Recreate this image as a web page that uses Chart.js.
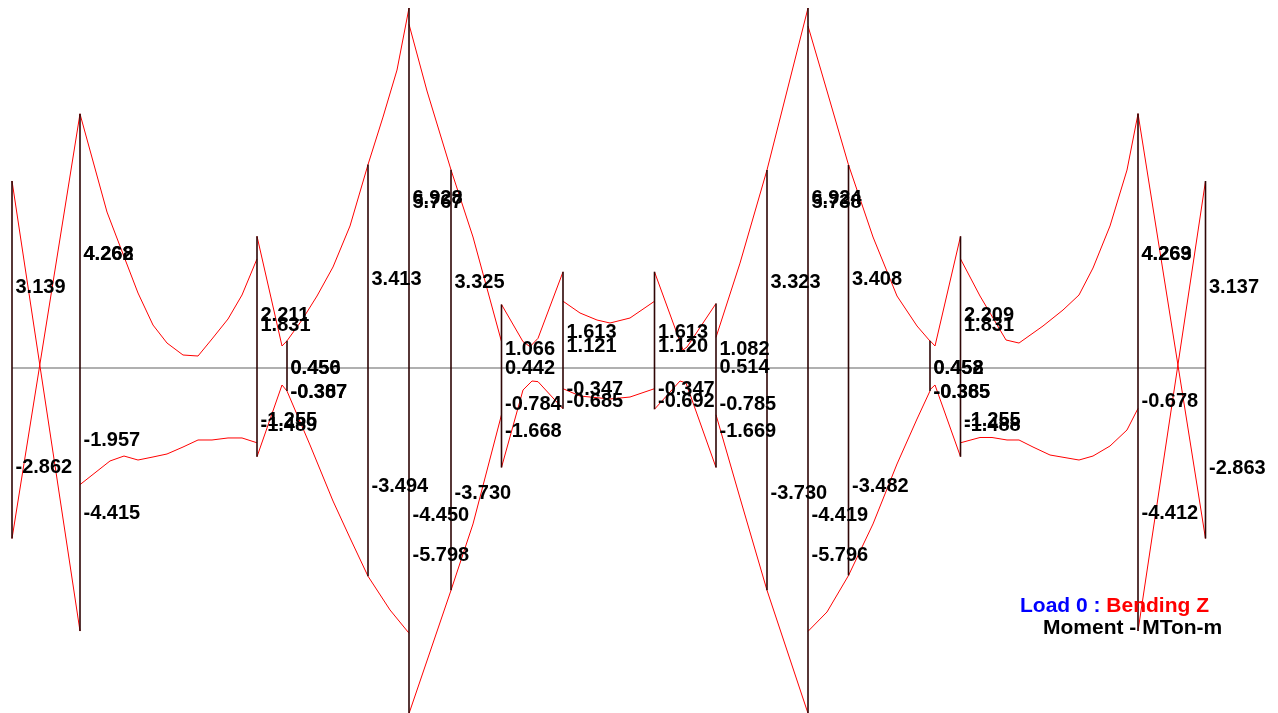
<!DOCTYPE html>
<html>
<head>
<meta charset="utf-8">
<title>Load 0 : Bending Z</title>
<script src="https://cdn.jsdelivr.net/npm/chart.js@4.4.1/dist/chart.umd.min.js"></script>
<style>
  html, body { margin: 0; padding: 0; background: #ffffff; overflow: hidden; }
  canvas { display: block; }
</style>
</head>
<body>
<canvas id="momentChart" width="1278" height="713"></canvas>
<script>
// stations of the member ends along the frame (m) and the moment there (MTon-m)
const nodeX = [1.2, 8.0, 25.7, 28.7, 36.8, 40.9, 45.1, 50.15, 56.3, 65.45, 71.6, 76.7, 80.8, 84.85, 93.0, 96.05, 113.8, 120.55];
const nodeTop = [3.139, 4.268, 2.211, 0.456, 3.413, 6.04, 3.325, 1.066, 1.613, 1.613, 1.082, 3.323, 6.04, 3.408, 0.458, 2.209, 4.269, 3.137];
const nodeBottom = [-2.862, -4.415, -1.489, -0.387, -3.494, -5.798, -3.730, -1.668, -0.685, -0.692, -1.669, -3.730, -5.796, -3.482, -0.385, -1.488, -4.412, -2.863];

// upper moment curve, one list of [station, moment] per member
const upperCurves = [
    [[1.2, 3.139], [8.0, -4.415]],
    [[8.0, 4.262], [10.7, 2.617], [12.3, 1.913], [13.8, 1.258], [15.3, 0.721], [16.7, 0.419], [18.3, 0.218], [19.8, 0.201], [21.2, 0.487], [22.8, 0.822], [24.2, 1.225], [25.7, 1.831]],
    [[25.7, 2.211], [28.2, 0.369], [28.7, 0.456]],
    [[28.7, 0.456], [30.2, 0.805], [31.7, 1.208], [33.3, 1.695], [35.0, 2.383], [36.8, 3.413]],
    [[36.8, 3.413], [38.3, 4.211], [39.7, 5.0], [40.9, 6.04]],
    [[40.9, 5.767], [42.7, 4.648], [45.1, 3.325]],
    [[45.1, 3.325], [47.3, 2.198], [50.15, 0.442]],
    [[50.15, 1.066], [52.3, 0.442], [53.0, 0.358], [53.8, 0.498], [56.3, 1.613]],
    [[56.3, 1.121], [58.0, 0.923], [59.7, 0.805], [61.0, 0.755], [63.0, 0.839], [65.45, 1.120]],
    [[65.45, 1.613], [68.3, 0.302], [68.7, 0.352], [71.6, 1.082]],
    [[71.6, 0.514], [74.0, 1.76], [76.7, 3.323]],
    [[76.7, 3.323], [78.7, 4.648], [80.8, 6.04]],
    [[80.8, 5.738], [82.7, 4.648], [84.85, 3.408]],
    [[84.85, 3.408], [87.3, 2.198], [89.7, 1.208], [91.7, 0.705], [93.0, 0.452]],
    [[93.0, 0.458], [93.5, 0.369], [96.05, 2.209]],
    [[96.05, 1.831], [98.0, 1.208], [100.6, 0.470], [101.9, 0.419], [104.3, 0.705], [106.3, 0.973], [107.9, 1.225], [109.3, 1.678], [111.0, 2.383], [112.7, 3.322], [113.8, 4.263]],
    [[113.8, 4.269], [120.55, -2.863]]
];

// lower moment curve, one list per member
const lowerCurves = [
    [[1.2, -2.862], [8.0, 4.268]],
    [[8.0, -1.957], [11.0, -1.560], [12.4, -1.477], [13.8, -1.544], [15.3, -1.493], [16.7, -1.443], [18.3, -1.326], [19.8, -1.208], [21.2, -1.208], [22.8, -1.174], [24.2, -1.174], [25.7, -1.255]],
    [[25.7, -1.489], [28.2, -0.285], [28.7, -0.387]],
    [[28.7, -0.387], [31.0, -1.292], [33.3, -2.232], [35.0, -2.852], [36.8, -3.494]],
    [[36.8, -3.494], [39.0, -4.060], [40.9, -4.450]],
    [[40.9, -5.798], [45.1, -3.730]],
    [[45.1, -3.730], [47.3, -2.617], [50.15, -0.784]],
    [[50.15, -1.668], [52.3, -0.369], [53.2, -0.218], [53.8, -0.229], [56.3, -0.685]],
    [[56.3, -0.347], [58.0, -0.470], [61.0, -0.520], [63.0, -0.487], [65.45, -0.347]],
    [[65.45, -0.692], [68.0, -0.218], [68.6, -0.252], [71.6, -1.669]],
    [[71.6, -0.785], [74.0, -2.181], [76.7, -3.730]],
    [[76.7, -3.730], [80.8, -5.796]],
    [[80.8, -4.419], [82.7, -4.094], [84.85, -3.482]],
    [[84.85, -3.482], [87.3, -2.617], [89.7, -1.611], [91.7, -0.856], [93.0, -0.385]],
    [[93.0, -0.365], [93.5, -0.285], [96.05, -1.488]],
    [[96.05, -1.255], [98.0, -1.166], [99.2, -1.166], [100.7, -1.208], [101.9, -1.208], [103.3, -1.326], [105.0, -1.460], [107.9, -1.544], [109.3, -1.477], [111.0, -1.309], [112.7, -1.040], [113.8, -0.678]],
    [[113.8, -4.412], [120.55, 3.137]]
];

// value texts printed next to each node: [text, level in MTon-m]
const nodeLabels = [
    [['3.139', 1.376], ['-2.862', -1.644]],
    [['4.262', 1.930], ['4.268', 1.930], ['-1.957', -1.185], ['-4.415', -2.416]],
    [['2.211', 0.906], ['1.831', 0.738], ['-1.255', -0.856], ['-1.489', -0.940]],
    [['0.450', 0.025], ['0.456', 0.025], ['-0.307', -0.394], ['-0.387', -0.394]],
    [['3.413', 1.502], ['-3.494', -1.955]],
    [['6.928', 2.869], ['5.767', 2.802], ['-4.450', -2.445], ['-5.798', -3.114]],
    [['3.325', 1.460], ['-3.730', -2.077]],
    [['1.066', 0.331], ['0.442', 0.017], ['-0.784', -0.587], ['-1.668', -1.040]],
    [['1.613', 0.621], ['1.121', 0.378], ['-0.347', -0.336], ['-0.685', -0.545]],
    [['1.613', 0.621], ['1.120', 0.378], ['-0.347', -0.336], ['-0.692', -0.545]],
    [['1.082', 0.331], ['0.514', 0.034], ['-0.785', -0.587], ['-1.669', -1.040]],
    [['3.323', 1.460], ['-3.730', -2.077]],
    [['6.924', 2.869], ['5.738', 2.802], ['-4.419', -2.445], ['-5.796', -3.114]],
    [['3.408', 1.502], ['-3.482', -1.955]],
    [['0.452', 0.025], ['0.458', 0.025], ['-0.365', -0.386], ['-0.385', -0.386]],
    [['2.209', 0.906], ['1.831', 0.738], ['-1.255', -0.856], ['-1.488', -0.940]],
    [['4.263', 1.930], ['4.269', 1.930], ['-0.678', -0.537], ['-4.412', -2.416]],
    [['3.137', 1.384], ['-2.863', -1.654]]
];

const loadName = 'Load 0 : ';
const diagramName = 'Bending Z';
const unitText = 'Moment - MTon-m';

function joinSegments(segs) {
    const out = [];
    segs.forEach((seg, i) => {
        if (i) out.push({ x: seg[0][0], y: null });
        seg.forEach(([x, y]) => out.push({ x: x, y: y }));
    });
    return out;
}

const nodeLines = joinSegments(nodeX.map((x, i) => [[x, nodeTop[i]], [x, nodeBottom[i]]]));
const axisLine = [{ x: nodeX[0], y: 0 }, { x: nodeX[nodeX.length - 1], y: 0 }];

const labelFont = 'bold 20px "Liberation Sans", Arial, sans-serif';

// node values and the load caption
const textPlugin = {
    id: 'momentText',
    afterDatasetsDraw(chart) {
        const ctx = chart.ctx;
        const xs = chart.scales.x;
        const ys = chart.scales.y;
        ctx.save();
        ctx.font = labelFont;
        ctx.fillStyle = '#000000';
        ctx.textBaseline = 'alphabetic';
        nodeLabels.forEach((list, i) => {
            const px = xs.getPixelForValue(nodeX[i]) + 3.5;
            list.forEach(([txt, lvl]) => {
                ctx.fillText(txt, px, ys.getPixelForValue(lvl) + 7);
            });
        });

        const area = chart.chartArea;
        ctx.font = 'bold 21px "Liberation Sans", Arial, sans-serif';
        let lx = area.right - 258;
        ctx.fillStyle = '#0000ff';
        ctx.fillText(loadName, lx, area.bottom - 101);
        lx += ctx.measureText(loadName).width;
        ctx.fillStyle = '#ff0000';
        ctx.fillText(diagramName, lx, area.bottom - 101);
        ctx.fillStyle = '#000000';
        ctx.fillText(unitText, area.right - 235, area.bottom - 79);
        ctx.restore();
    }
};

new Chart(document.getElementById('momentChart'), {
    type: 'line',
    data: {
        datasets: [
            {
                label: 'Nodes',
                data: nodeLines,
                borderColor: '#2e0606',
                borderWidth: 1.6
            },
            {
                label: 'Upper',
                data: joinSegments(upperCurves),
                borderColor: '#ff0000',
                borderWidth: 1
            },
            {
                label: 'Lower',
                data: joinSegments(lowerCurves),
                borderColor: '#ff0000',
                borderWidth: 1
            },
            {
                label: 'Axis',
                data: axisLine,
                borderColor: '#b0b0b0',
                borderWidth: 2
            }
        ]
    },
    options: {
        responsive: false,
        animation: false,
        devicePixelRatio: 1,
        layout: { padding: 0 },
        elements: {
            point: { radius: 0, hitRadius: 0, hoverRadius: 0 },
            line: { tension: 0, fill: false }
        },
        datasets: { line: { spanGaps: false, clip: false } },
        scales: {
            x: { type: 'linear', min: 0, max: 127.8, display: false },
            y: { type: 'linear', min: -5.789, max: 6.175, display: false }
        },
        plugins: {
            legend: { display: false },
            tooltip: { enabled: false }
        }
    },
    plugins: [textPlugin]
});
</script>
</body>
</html>
